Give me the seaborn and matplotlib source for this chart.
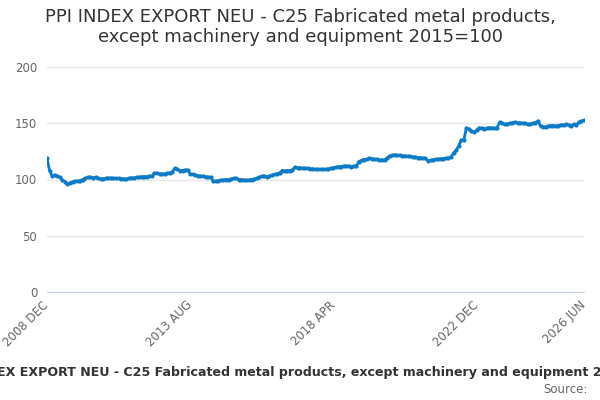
import pandas as pd
import matplotlib.pyplot as plt
import seaborn as sns

# monthly index values, 2008 DEC .. 2026 JUN
v2008 = [119]
v2009 = [108, 103, 104, 103, 102, 99.5, 98, 96, 97, 98, 98.5, 98.5]
v2010 = [99, 100, 101, 102, 102, 101.5, 102, 101, 100.5, 100.5, 101, 101.3]
v2011 = [101.3, 101, 101, 101, 100.8, 100.5, 100.5, 101, 101.5, 101.5, 102, 102]
v2012 = [102.5, 102.5, 102.5, 103, 103, 105.7, 105.5, 105, 105, 105, 105.5, 106]
v2013 = [106.7, 110, 109, 108, 108, 108.5, 108.5, 105, 104.5, 104, 103.5, 103]
v2014 = [103, 102.5, 102, 102, 98.7, 98.5, 99, 99.5, 99.5, 100, 100, 100.5]
v2015 = [101, 101, 100, 100, 99.5, 99.5, 99.5, 100, 100.5, 101, 102, 103]
v2016 = [103, 102.5, 103, 104, 104.5, 105, 106, 108, 107.5, 108, 108, 108.5]
v2017 = [111, 110.5, 110.5, 110, 110, 110, 109.5, 109.5, 109, 109, 109, 109]
v2018 = [109, 109.5, 110, 110.5, 111, 111.5, 111.5, 112, 112, 112, 111.5, 112]
v2019 = [112, 116, 117, 117.5, 118, 119, 118.5, 118, 118, 117.5, 117.5, 117.5]
v2020 = [119, 121, 121.5, 122, 121.5, 121.5, 121, 121, 120.5, 120.5, 120, 120]
v2021 = [119.5, 119.5, 119, 119, 116.5, 117, 117.5, 118, 118, 118.5, 118.5, 119]
v2022 = [119, 120, 123.5, 126, 130, 135, 135, 145.8, 145, 143, 142, 144]
v2023 = [146, 145.5, 145, 145.5, 146, 146, 145.5, 146, 151, 150, 149, 149.5]
v2024 = [150, 150.5, 151, 150.5, 150.5, 150, 150, 149, 149.5, 150, 150.5, 152]
v2025 = [147.5, 147, 146.7, 147.5, 148, 148, 147.5, 148, 148.5, 148.5, 149, 148.5]
v2026 = [148, 149, 148.5, 151, 152, 152.5]

values = (v2008 + v2009 + v2010 + v2011 + v2012 + v2013 + v2014 + v2015 + v2016
          + v2017 + v2018 + v2019 + v2020 + v2021 + v2022 + v2023 + v2024 + v2025 + v2026)
months = pd.period_range('2008-12', '2026-06', freq='M').strftime('%Y %b').str.upper()

label_names = ["2008 DEC", "2013 AUG", "2018 APR", "2022 DEC", "2026 JUN"]
y_ticks = [0, 50, 100, 150, 200]

title = "PPI INDEX EXPORT NEU - C25 Fabricated metal products,\nexcept machinery and equipment 2015=100"
footer = "PPI INDEX EXPORT NEU - C25 Fabricated metal products, except machinery and equipment 2015=100"

df = pd.DataFrame({'month': list(months), 'value': values})
df['pos'] = range(len(df))

sns.set_style('white')
plt.rcParams['font.family'] = ['DejaVu Sans']

fig = plt.figure(figsize=(6, 4), dpi=100)
ax = fig.add_axes([47 / 600, 108 / 400, 537 / 600, 225 / 400])

sns.lineplot(data=df, x='pos', y='value', ax=ax, color='#0a7bc4', linewidth=2,
             marker='o', markersize=3, markeredgewidth=0)

ax.set_xlim(0, len(df) - 1)
ax.set_ylim(0, 200)
ax.set_yticks(y_ticks)
ax.set_yticklabels([str(t) for t in y_ticks], color='#666666', fontsize=8.5)
ax.yaxis.grid(True, color='#e6e6e6', linewidth=1)
ax.set_axisbelow(True)

# a tick every 14 months, a label every 4th tick
all_ticks = list(range(0, len(df), 14))
ax.set_xticks(all_ticks)
ax.set_xticklabels([m if m in label_names else '' for m in df['month'][all_ticks]],
                   rotation=45, ha='right', va='center', rotation_mode='anchor',
                   color='#666666', fontsize=8.5)
ax.tick_params(axis='x', length=7, color='#ccd6eb', width=1, pad=1)
ax.tick_params(axis='y', length=0, pad=7)

for s in ['top', 'right', 'left']:
    ax.spines[s].set_visible(False)
ax.spines['bottom'].set_color('#ccd6eb')
ax.set_xlabel('')
ax.set_ylabel('')

fig.text(0.5, 0.98, title, ha='center', va='top', fontsize=13, color='#333333',
         linespacing=1.15)
# footer runs past both edges, as in the source chart
fig.text(0.507, 0.068, footer, ha='center', va='center', fontsize=9.1,
         fontweight='bold', color='#333333')
fig.text(0.98, 0.027, 'Source:', ha='right', va='center', fontsize=8.5, color='#666666')

fig.savefig('out.png', dpi=100)
